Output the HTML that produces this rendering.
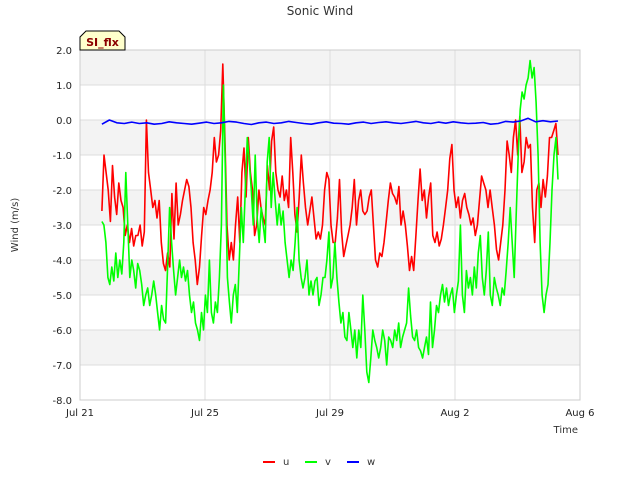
<!DOCTYPE html>
<html><head><meta charset="utf-8"><style>
body{margin:0;background:#fff;font-family:"Liberation Sans","DejaVu Sans",sans-serif}
svg text{font-family:"DejaVu Sans","Liberation Sans",sans-serif}
</style></head><body>
<svg id="chart" width="640" height="480" xmlns="http://www.w3.org/2000/svg">
<rect width="640" height="480" fill="#fff"/>
<g id="bands"></g>
<g id="grid"></g>
<rect x="80" y="50" width="500" height="350" fill="none" stroke="#ccc"/>
<g id="series"></g>
<g id="yticks" font-size="10" fill="#222"></g>
<g id="xticks" font-size="10" fill="#222"></g>
<text x="320" y="15" text-anchor="middle" font-size="12" fill="#333">Sonic Wind</text>
<text transform="translate(18,225) rotate(-90)" text-anchor="middle" font-size="10" fill="#333">Wind (m/s)</text>
<text x="578" y="433" text-anchor="end" font-size="10" fill="#333">Time</text>
<g>
<path d="M80,50 L80,37 L86,31 L119,31 L125,37 L125,50 Z" fill="#ffffcc" stroke="#000"/>
<text x="102.5" y="46" text-anchor="middle" font-size="11" font-weight="bold" fill="#8b0000">SI_flx</text>
</g>
<g id="legend" font-size="10" fill="#333"></g>
</svg>
<script>
const xTickLabels=["Jul 21","Jul 25","Jul 29","Aug 2","Aug 6"];
const xTickDays=[0,4,8,12,16];
const yTicks=[2,1,0,-1,-2,-3,-4,-5,-6,-7,-8];
const tStart=0.7, tEnd=15.296;
const uVals=[-2.6,-1.0,-1.5,-2.0,-2.9,-1.3,-2.2,-2.7,-1.8,-2.3,-2.5,-3.3,-3.0,-3.5,-3.1,-3.6,-3.3,-3.3,-3.0,-3.6,-3.2,0.0,-1.5,-2.0,-2.5,-2.3,-2.8,-2.3,-3.5,-4.1,-4.3,-3.8,-4.2,-2.1,-3.4,-1.8,-3.0,-2.7,-2.3,-2.0,-1.7,-1.9,-2.5,-3.5,-4.0,-4.7,-4.2,-3.3,-2.5,-2.7,-2.3,-2.0,-1.5,-0.5,-1.2,-1.0,-0.3,1.6,-0.5,-3.0,-4.0,-3.5,-4.0,-3.0,-2.2,-3.5,-1.5,-0.8,-2.2,-0.5,-1.5,-2.0,-3.3,-3.0,-2.0,-2.5,-2.8,-3.0,-1.3,-2.0,-0.6,-0.2,-1.5,-2.0,-2.2,-1.6,-2.3,-2.0,-2.5,-0.5,-1.5,-2.7,-3.2,-2.2,-1.0,-1.8,-2.5,-3.0,-2.6,-2.2,-2.8,-3.4,-3.2,-3.4,-3.0,-2.0,-1.5,-1.7,-3.0,-3.5,-3.5,-2.8,-1.7,-3.2,-3.9,-3.6,-3.3,-3.0,-2.5,-1.7,-3.0,-2.3,-2.0,-2.6,-2.7,-2.6,-2.2,-2.0,-3.0,-4.0,-4.2,-3.8,-3.9,-3.5,-2.9,-2.3,-1.8,-2.1,-2.2,-2.4,-1.9,-3.0,-2.6,-3.0,-3.6,-4.3,-3.9,-4.3,-3.3,-2.3,-1.4,-2.3,-2.0,-2.8,-2.2,-1.8,-3.3,-3.5,-3.2,-3.6,-3.4,-3.0,-2.5,-2.0,-1.1,-0.7,-2.0,-2.5,-2.2,-2.8,-2.3,-2.1,-2.5,-2.7,-3.0,-2.8,-3.3,-3.0,-2.3,-1.6,-1.8,-2.0,-2.5,-2.0,-2.5,-3.0,-3.7,-4.0,-3.5,-3.0,-2.0,-0.6,-1.0,-1.5,-0.5,0.0,-1.0,0.1,-1.5,-1.2,-0.5,-0.8,-0.7,-2.5,-3.5,-2.0,-1.8,-2.5,-1.7,-2.2,-1.6,-0.5,-0.5,-0.3,-0.1,-1.0];
const vVals=[-2.9,-3.0,-3.5,-4.5,-4.7,-4.2,-4.6,-3.8,-4.5,-4.0,-4.4,-3.5,-1.5,-3.0,-4.5,-4.0,-4.3,-4.8,-4.1,-4.3,-4.7,-5.3,-5.0,-4.8,-5.3,-5.0,-4.6,-5.0,-5.5,-6.0,-5.3,-5.7,-5.8,-4.2,-2.5,-3.5,-4.3,-5.0,-4.5,-4.0,-4.5,-4.2,-4.6,-4.3,-5.0,-5.5,-5.2,-5.8,-6.0,-6.3,-5.5,-6.0,-5.0,-5.5,-4.0,-5.5,-5.8,-5.2,-5.5,-4.5,-3.0,1.0,-1.5,-4.5,-5.2,-5.8,-5.0,-4.7,-5.5,-4.0,-2.5,-3.5,-2.0,-0.5,-1.2,-2.0,-3.0,-1.0,-2.8,-3.5,-2.5,-3.0,-3.5,-1.2,-0.5,-2.5,-1.5,-2.3,-3.0,-2.4,-3.0,-2.6,-3.5,-4.0,-4.5,-4.0,-4.3,-3.5,-2.5,-4.0,-4.5,-4.8,-4.5,-4.0,-5.0,-4.6,-5.0,-4.6,-4.5,-5.3,-5.0,-4.5,-4.5,-4.0,-3.2,-4.8,-4.5,-3.5,-4.5,-5.2,-5.8,-5.5,-6.2,-6.3,-5.5,-6.0,-6.5,-6.0,-6.8,-6.0,-6.5,-5.0,-6.0,-7.2,-7.5,-6.8,-6.0,-6.3,-6.5,-6.8,-6.5,-6.0,-6.3,-7.0,-6.2,-6.3,-6.5,-6.0,-6.3,-5.8,-6.5,-6.2,-6.0,-5.8,-4.8,-5.6,-6.2,-6.3,-6.0,-6.5,-6.6,-6.8,-6.5,-6.2,-6.7,-5.2,-6.5,-6.0,-5.3,-5.5,-5.0,-4.7,-5.2,-4.8,-5.3,-5.0,-4.8,-5.5,-5.0,-4.6,-3.0,-5.0,-5.5,-4.3,-4.8,-4.5,-5.0,-4.2,-4.8,-3.8,-3.3,-4.5,-5.0,-4.3,-3.2,-5.0,-5.3,-4.5,-4.8,-5.0,-5.3,-4.8,-5.0,-4.3,-3.5,-2.5,-3.5,-4.5,-2.7,-1.0,0.3,0.8,0.6,1.0,1.2,1.7,1.2,1.5,0.5,-1.0,-3.5,-5.0,-5.5,-5.0,-4.7,-3.5,-2.0,-1.0,-0.5,-1.7];
const wVals=[-0.12,0.0,-0.08,-0.1,-0.06,-0.1,-0.08,-0.12,-0.1,-0.05,-0.08,-0.1,-0.12,-0.09,-0.06,-0.1,-0.08,-0.04,-0.06,-0.1,-0.13,-0.08,-0.06,-0.1,-0.08,-0.04,-0.07,-0.1,-0.12,-0.08,-0.05,-0.09,-0.1,-0.12,-0.08,-0.06,-0.1,-0.07,-0.05,-0.08,-0.1,-0.07,-0.04,-0.08,-0.1,-0.06,-0.09,-0.05,-0.08,-0.1,-0.09,-0.07,-0.12,-0.1,-0.04,-0.06,-0.03,0.05,-0.05,-0.02,-0.05,-0.03];
const xS=d=>80+d*500/16;
const yS=v=>120-v*35;
const NS="http://www.w3.org/2000/svg";
function mk(tag,attrs,parent){const e=document.createElementNS(NS,tag);for(const k in attrs)e.setAttribute(k,attrs[k]);parent.appendChild(e);return e;}
const bands=document.getElementById('bands'),grid=document.getElementById('grid');
for(let i=0;i<yTicks.length-1;i++){
  if(i%2===0){const r=mk('rect',{x:80,y:yS(yTicks[i]),width:500,height:yS(yTicks[i+1])-yS(yTicks[i]),fill:'#f3f3f3'},bands);
  
  }
}
const yt=document.getElementById('yticks');
yTicks.forEach(v=>{
  const l=mk('line',{x1:80,x2:580,y1:yS(v),y2:yS(v),stroke:'#ddd'},grid);
  
  
  const t=mk('text',{x:72,y:yS(v)+4,'text-anchor':'end'},yt);t.textContent=v.toFixed(1);
  
  
});
const xt=document.getElementById('xticks');
xTickDays.forEach((d,i)=>{
  const l=mk('line',{x1:xS(d),x2:xS(d),y1:50,y2:400,stroke:'#ddd'},grid);
  
  
  const t=mk('text',{x:xS(d),y:416,'text-anchor':'middle'},xt);t.textContent=xTickLabels[i];
  
  
});
const ser=document.getElementById('series');
function line(vals,color,name){
  const step=(tEnd-tStart)/(vals.length-1);
  const pts=vals.map((v,i)=>xS(tStart+i*step).toFixed(1)+','+yS(v).toFixed(1)).join(' ');
  const p=mk('polyline',{points:pts,fill:'none',stroke:color,'stroke-width':1.6,'stroke-linejoin':'round'},ser);
  
  
}
line(uVals,'#ff0000','series-u');
line(vVals,'#00ff00','series-v');
line(wVals,'#0000ff','series-w');
const leg=document.getElementById('legend');
[['u','#ff0000',263],['v','#00ff00',305],['w','#0000ff',347]].forEach(([n,c,x])=>{
  const g=mk('g',{},leg);
  
  
  mk('line',{x1:x,x2:x+12,y1:462,y2:462,stroke:c,'stroke-width':2},g);
  const t=mk('text',{x:x+20,y:465},g);t.textContent=n;
});
</script>
</body></html>
